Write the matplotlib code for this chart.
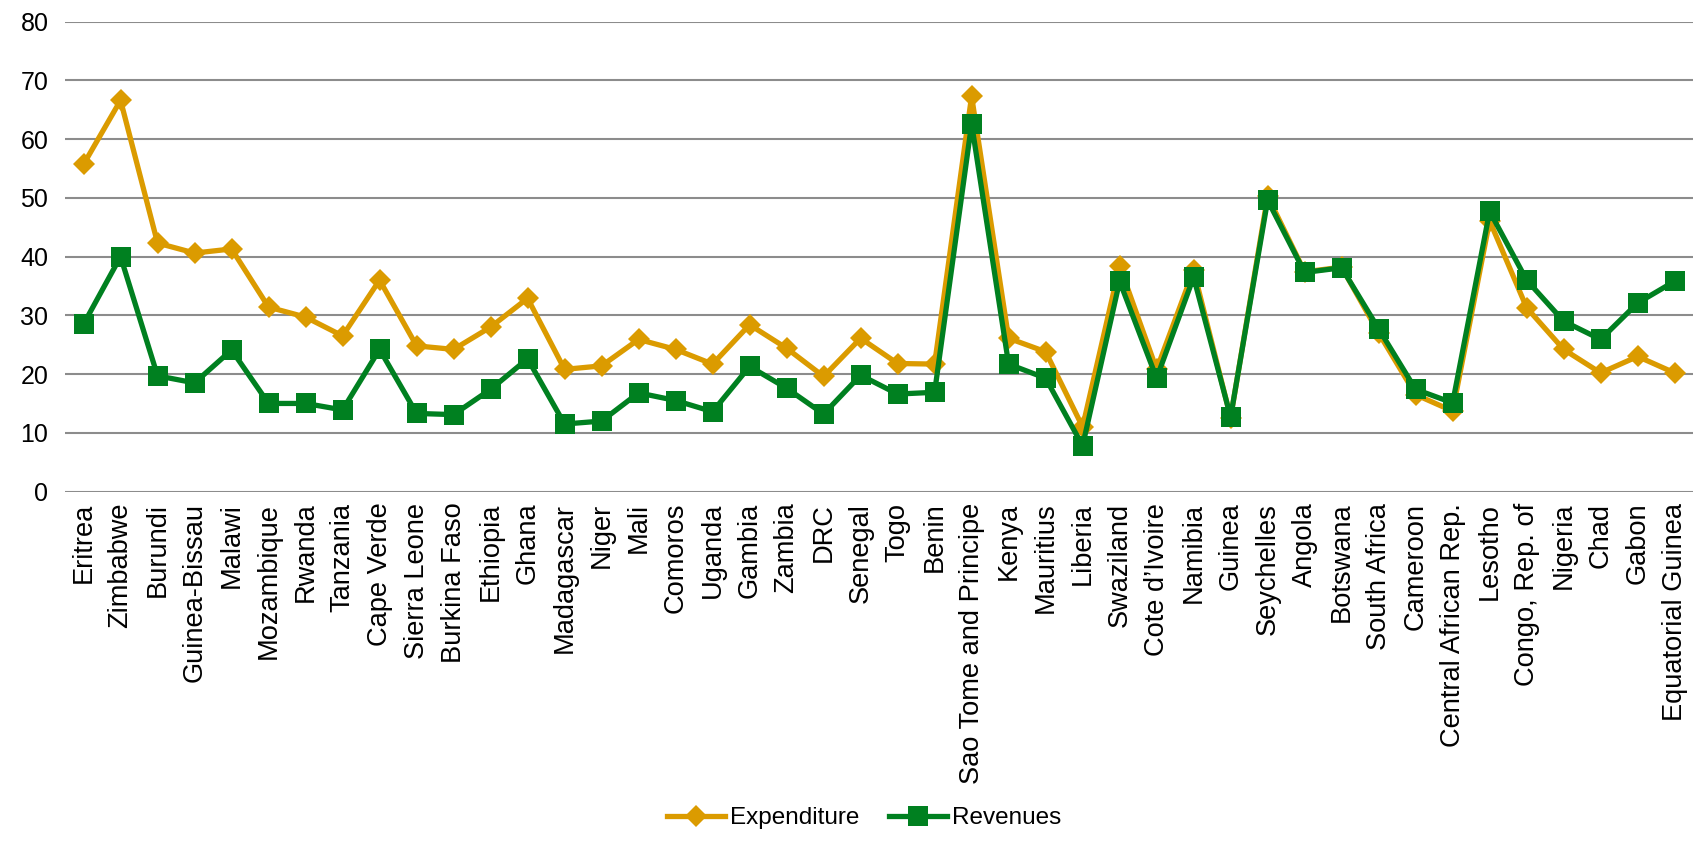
import matplotlib
matplotlib.use("Agg")
import matplotlib.pyplot as plt

countries = ["Eritrea", "Zimbabwe", "Burundi", "Guinea-Bissau", "Malawi", "Mozambique",
             "Rwanda", "Tanzania", "Cape Verde", "Sierra Leone", "Burkina Faso", "Ethiopia",
             "Ghana", "Madagascar", "Niger", "Mali", "Comoros", "Uganda", "Gambia", "Zambia",
             "DRC", "Senegal", "Togo", "Benin", "Sao Tome and Principe", "Kenya", "Mauritius",
             "Liberia", "Swaziland", "Cote d\u2019Ivoire", "Namibia", "Guinea", "Seychelles",
             "Angola", "Botswana", "South Africa", "Cameroon", "Central African Rep.",
             "Lesotho", "Congo, Rep. of", "Nigeria", "Chad", "Gabon", "Equatorial Guinea"]

expenditure = [55.7, 66.6, 42.3, 40.6, 41.3, 31.4, 29.7, 26.5, 36.0, 24.8, 24.2, 28.0,
               32.9, 20.8, 21.4, 25.9, 24.2, 21.7, 28.4, 24.4, 19.6, 26.1, 21.8, 21.7,
               67.3, 26.1, 23.8, 11.0, 38.4, 20.8, 37.7, 12.6, 50.3, 37.4, 38.2, 27.0,
               16.5, 13.7, 46.1, 31.3, 24.2, 20.2, 23.0, 20.2]

revenues = [28.5, 40.0, 19.7, 18.5, 24.1, 15.0, 15.0, 13.9, 24.2, 13.3, 13.1, 17.4,
            22.6, 11.5, 12.0, 16.8, 15.5, 13.6, 21.3, 17.6, 13.2, 19.8, 16.6, 16.9,
            62.6, 21.7, 19.3, 7.8, 35.8, 19.3, 36.5, 12.7, 49.6, 37.3, 38.1, 27.7,
            17.4, 15.1, 47.7, 36.0, 29.0, 25.9, 32.1, 35.8]

yticks = [0, 10, 20, 30, 40, 50, 60, 70, 80]

plt.rcParams['font.family'] = ['Liberation Sans', 'DejaVu Sans']

orange = '#DB9B00'
green = '#008020'

fig = plt.figure(figsize=(16.94, 8.41), dpi=100)
ax = fig.add_axes([0.0384, 0.4155, 0.9611, 0.5588])

x = range(len(countries))
ax.plot(x, expenditure, color=orange, lw=3.8, marker='D', markersize=11,
        markeredgewidth=0, label='Expenditure', zorder=3)
ax.plot(x, revenues, color=green, lw=3.8, marker='s', markersize=14.5,
        markeredgewidth=0, label='Revenues', zorder=4)

ax.set_xlim(-0.5, len(countries) - 0.5)
ax.set_ylim(0, 80)
ax.set_yticks(yticks)
ax.set_yticklabels([str(t) for t in yticks])
ax.set_xticks(list(x))
ax.set_xticklabels(countries, rotation=90, va='top', ha='center')
ax.tick_params(axis='both', length=0, colors='black')
ax.tick_params(axis='y', pad=12, labelsize=18)
ax.tick_params(axis='x', pad=8, labelsize=19.6)

ax.yaxis.grid(True, color='#8C8C8C', lw=1.5)
ax.set_axisbelow(True)
for s in ax.spines.values():
    s.set_visible(False)

fig.legend(loc='lower center', bbox_to_anchor=(0.51, -0.012), ncol=2, frameon=False,
           fontsize=17.5, handlelength=2.4, handletextpad=0.2, columnspacing=1.2)

fig.savefig('out.png', dpi=100)
